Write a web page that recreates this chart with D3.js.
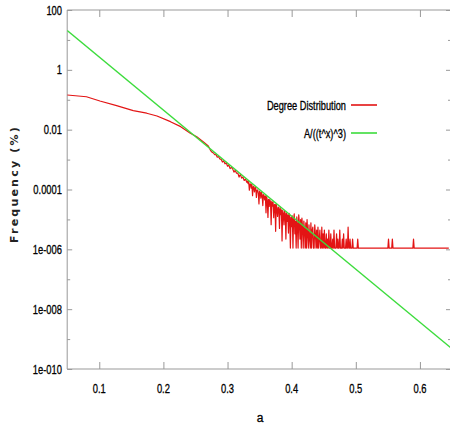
<!DOCTYPE html>
<html>
<head>
<meta charset="utf-8">
<script src="https://cdn.jsdelivr.net/npm/d3@7"></script>
<style>
  body { margin: 0; background: #fff; }
  svg { display: block; }
  .lab { font-family: "Liberation Sans", Arial, sans-serif; font-size: 12px; fill: #000; stroke: #000; stroke-width: 0.3px; }
  .frame path, .frame line { stroke: #999; }
</style>
</head>
<body>
<svg id="chart" width="450" height="425"></svg>
<script>
"use strict";

// x ticks
var xTicks = [ 0.1, 0.2, 0.3, 0.4, 0.5, 0.6 ];
// y ticks (every decade) and their labels, blank for the unlabelled ones
var yTicks  = [ 1e-10, 1e-9, 1e-8, 1e-7, 1e-6, 1e-5, 1e-4, 1e-3, 1e-2, 1e-1, 1, 10, 100 ];
var yLabels = [ "1e-010", "", "1e-008", "", "1e-006", "", "0.0001", "", "0.01", "", "1", "", "100" ];

// degree distribution, smooth head
var headX = [ 0.050, 0.080, 0.101, 0.127, 0.153, 0.174, 0.190, 0.211, 0.227, 0.242, 0.252, 0.262, 0.270, 0.274, 0.276 ];
var headY = [ 0.144, 0.126, 0.091, 0.0634, 0.0431, 0.0355, 0.0286, 0.0185, 0.0126, 0.00757, 0.00582, 0.00396, 0.00285, 0.00195, 0.00175 ];

// degree distribution, a = 0.278 .. 0.330 in steps of 0.002
var midAStart = 0.278, midAStep = 0.002;
var midA = [
  1.66e-3, 1.45e-3, 1.48e-3, 1.2e-3, 1.26e-3, 1.05e-3, 1.02e-3, 8.3e-4, 9.1e-4, 7.2e-4,
  7.8e-4, 6.0e-4, 6.6e-4, 5.0e-4, 5.5e-4, 4.9e-4, 3.8e-4, 4.4e-4, 3.5e-4, 3.55e-4,
  2.6e-4, 3.2e-4, 2.4e-4, 2.6e-4, 2.0e-4, 2.24e-4, 1.74e-4
];

// degree distribution, a = 0.331 .. 0.500 in steps of 0.001
var midBStart = 0.331, midBStep = 0.001;
var midB = [
  // 0.331 - 0.360
  1.92e-4, 1.57e-4, 1.85e-4, 9.5e-5, 1.52e-4, 1.53e-4, 1.11e-4, 1.48e-4, 6.2e-5, 1.21e-4,
  1.27e-4, 8.3e-5, 1.12e-4, 1.18e-4, 5.4e-5, 9.3e-5, 9.7e-5, 7.6e-5, 3.3e-5, 8.8e-5,
  7.9e-5, 5.1e-5, 8.0e-5, 6.4e-5, 2.9e-5, 6.8e-5, 6.1e-5, 4.5e-5, 6.1e-5, 1.66e-5,
  // 0.361 - 0.400
  5.8e-5, 4.3e-5, 1.16e-5, 4.7e-5, 2.7e-5, 4.6e-5, 3.8e-5, 6.7e-6, 4.0e-5, 2.8e-5,
  3.8e-5, 1.14e-5, 3.1e-5, 3.2e-5, 4.0e-6, 3.2e-5, 2.2e-5, 1.26e-5, 2.6e-5, 2.2e-5,
  5.0e-6, 2.6e-5, 1.45e-5, 2.1e-5, 1.9e-6, 2.0e-5, 1.55e-5, 6.6e-6, 1.9e-5, 1.54e-5,
  2.2e-6, 1.63e-5, 8.6e-6, 1.43e-5, 3.5e-6, 1.6e-5, 1.1e-5, 1.1e-6, 1.2e-5, 5.7e-6,
  // 0.401 - 0.450
  1.32e-5, 1.1e-6, 9.9e-6, 1.54e-5, 3.3e-6, 8.8e-6, 1.1e-6, 1.21e-5, 6.6e-6, 1.1e-6,
  1.43e-5, 7.7e-6, 2.2e-6, 9.9e-6, 1.1e-6, 1.1e-5, 5.5e-6, 1.1e-6, 8.8e-6, 4.4e-6,
  1.1e-6, 7.7e-6, 1.1e-6, 9.9e-6, 3.3e-6, 1.1e-6, 6.6e-6, 2.2e-6, 1.1e-6, 7.7e-6,
  1.1e-6, 4.4e-6, 5.5e-6, 1.1e-6, 1.1e-6, 6.6e-6, 3.3e-6, 1.1e-6, 4.4e-6, 1.1e-6,
  5.5e-6, 1.1e-6, 2.2e-6, 4.4e-6, 1.1e-6, 1.1e-6, 5.5e-6, 1.1e-6, 3.3e-6, 1.1e-6,
  // 0.451 - 0.500
  4.4e-6, 1.1e-6, 1.1e-6, 3.3e-6, 1.1e-6, 2.2e-6, 1.1e-6, 4.4e-6, 1.1e-6, 1.1e-6,
  3.3e-6, 1.1e-6, 1.1e-6, 2.2e-6, 1.1e-6, 4.4e-6, 1.1e-6, 1.1e-6, 1.1e-6, 3.3e-6,
  1.1e-6, 2.2e-6, 1.1e-6, 1.1e-6, 4.4e-6, 1.1e-6, 1.1e-6, 1.1e-6, 2.2e-6, 1.1e-6,
  3.3e-6, 1.1e-6, 1.1e-6, 1.1e-6, 2.2e-6, 1.1e-6, 1.1e-6, 5.5e-6, 1.1e-6, 1.1e-6,
  2.2e-6, 1.1e-6, 1.1e-6, 1.1e-6, 2.2e-6, 1.1e-6, 1.1e-6, 1.1e-6, 1.1e-6, 1.1e-6
];

// degree distribution, flat tail with a few single spikes
var tailX = [ 0.502, 0.503, 0.504, 0.550, 0.551, 0.552, 0.556, 0.557, 0.558, 0.589, 0.590, 0.591, 0.645 ];
var tailY = [ 1.1e-6, 2.2e-6, 1.1e-6, 1.1e-6, 2.2e-6, 1.1e-6, 1.1e-6, 2.2e-6, 1.1e-6, 1.1e-6, 2.2e-6, 1.1e-6, 1.1e-6 ];

// fit A/((t^x)^3), a straight line on the log axis
var fitX = [ 0.05, 0.65 ];
var fitY = [ 20.6, 4.75e-10 ];

var seriesNames = [ "Degree Distribution", "A/((t^x)^3)" ];
var seriesColors = [ "#e31414", "#3ddc3d" ];

var svg = d3.select("#chart");
var pLeft = 67.2, pRight = 452, pTop = 10, pBottom = 369;

var x = d3.scaleLinear().domain([0.05, 0.65]).range([pLeft, pRight]);
var y = d3.scaleLog().domain([1e-10, 100]).range([pBottom, pTop]);

// red points
var red = [];
headX.forEach(function(v, i) { red.push({ a: v, f: headY[i] }); });
midA.forEach(function(v, i) { red.push({ a: midAStart + i * midAStep, f: v }); });
midB.forEach(function(v, i) { red.push({ a: midBStart + i * midBStep, f: v }); });
tailX.forEach(function(v, i) { red.push({ a: v, f: tailY[i] }); });
var green = fitX.map(function(v, i) { return { a: v, f: fitY[i] }; });

// narrow the text, the original font is a condensed one
function squeeze(sel, k) {
  sel.each(function() {
    var w = this.getComputedTextLength();
    d3.select(this).attr("textLength", w * k).attr("lengthAdjust", "spacingAndGlyphs");
  });
}

svg.append("clipPath").attr("id", "clip")
  .append("rect")
  .attr("x", pLeft).attr("y", pTop)
  .attr("width", pRight - pLeft).attr("height", pBottom - pTop);

// frame and ticks
var isMajor = function(d, i) { return yLabels[i] !== ""; };
var axisRight = 451;

svg.append("g").attr("class", "frame")
  .attr("transform", "translate(0," + pBottom + ")")
  .call(d3.axisBottom(x).tickValues(xTicks).tickSize(-7).tickFormat(""))
  .call(function(g) { g.select(".domain").attr("d", "M" + pLeft + ",0H" + axisRight); });
svg.append("g").attr("class", "frame")
  .attr("transform", "translate(0," + pTop + ")")
  .call(d3.axisTop(x).tickValues(xTicks).tickSize(-7).tickFormat(""))
  .call(function(g) { g.select(".domain").attr("d", "M" + pLeft + ",0H" + axisRight); });
svg.append("g").attr("class", "frame")
  .attr("transform", "translate(" + pLeft + ",0)")
  .call(d3.axisLeft(y).tickValues(yTicks).tickSize(-5).tickFormat(""))
  .call(function(g) {
    g.select(".domain").attr("d", "M0," + pTop + "V" + pBottom);
    g.selectAll(".tick line").attr("x2", function(d, i) { return isMajor(d, i) ? 5 : 3; });
  });
svg.append("g").attr("class", "frame")
  .attr("transform", "translate(" + axisRight + ",0)")
  .call(d3.axisRight(y).tickValues(yTicks).tickSize(-5).tickFormat(""))
  .call(function(g) {
    g.select(".domain").attr("d", "M0," + pTop + "V" + pBottom);
    g.selectAll(".tick line").attr("x2", function(d, i) { return isMajor(d, i) ? -5 : -3; });
  });
svg.selectAll(".frame .tick line").style("stroke", "#999");

// tick labels
svg.append("g").selectAll("text")
  .data(xTicks)
  .enter().append("text")
  .attr("class", "lab")
  .attr("x", function(d) { return x(d); })
  .attr("y", 393)
  .attr("text-anchor", "middle")
  .text(function(d) { return d3.format(".1f")(d); })
  .call(squeeze, 0.78);

svg.append("g").selectAll("text")
  .data(yTicks.filter(isMajor))
  .enter().append("text")
  .attr("class", "lab")
  .attr("x", 62)
  .attr("y", function(d) { return y(d) + 4.5; })
  .attr("text-anchor", "end")
  .text(function(d) { return yLabels[yTicks.indexOf(d)]; })
  .call(squeeze, 0.78);

// axis titles
svg.append("text")
  .attr("class", "lab")
  .attr("x", 260).attr("y", 422)
  .attr("text-anchor", "middle")
  .text("a");
svg.append("text")
  .attr("transform", "translate(17.5,184) rotate(-90)")
  .attr("text-anchor", "middle")
  .style("font-family", "'DejaVu Sans', sans-serif")
  .style("font-size", "11px")
  .style("font-weight", "bold")
  .style("letter-spacing", "2.2px")
  .style("fill", "#222")
  .text("Frequency (%)");

// lines
var line = d3.line()
  .x(function(d) { return x(d.a); })
  .y(function(d) { return y(d.f); });

var plot = svg.append("g").attr("clip-path", "url(#clip)");
plot.append("path")
  .datum(red)
  .attr("d", line)
  .style("fill", "none")
  .style("stroke", seriesColors[0])
  .style("stroke-width", 1.2)
  .style("stroke-linejoin", "round");
plot.append("path")
  .datum(green)
  .attr("d", line)
  .style("fill", "none")
  .style("stroke", seriesColors[1])
  .style("stroke-width", 1.5);

// legend
var legend = svg.append("g").selectAll("g")
  .data(seriesNames)
  .enter().append("g")
  .attr("transform", function(d, i) { return "translate(0," + (105 + i * 28) + ")"; });
legend.append("text")
  .attr("class", "lab")
  .attr("x", 346).attr("y", 4.5)
  .attr("text-anchor", "end")
  .text(function(d) { return d; })
  .call(squeeze, 0.77);
legend.append("line")
  .attr("x1", 351).attr("x2", 377)
  .attr("y1", 0).attr("y2", 0)
  .style("stroke", function(d, i) { return seriesColors[i]; })
  .style("stroke-width", 1.6);
</script>
</body>
</html>
